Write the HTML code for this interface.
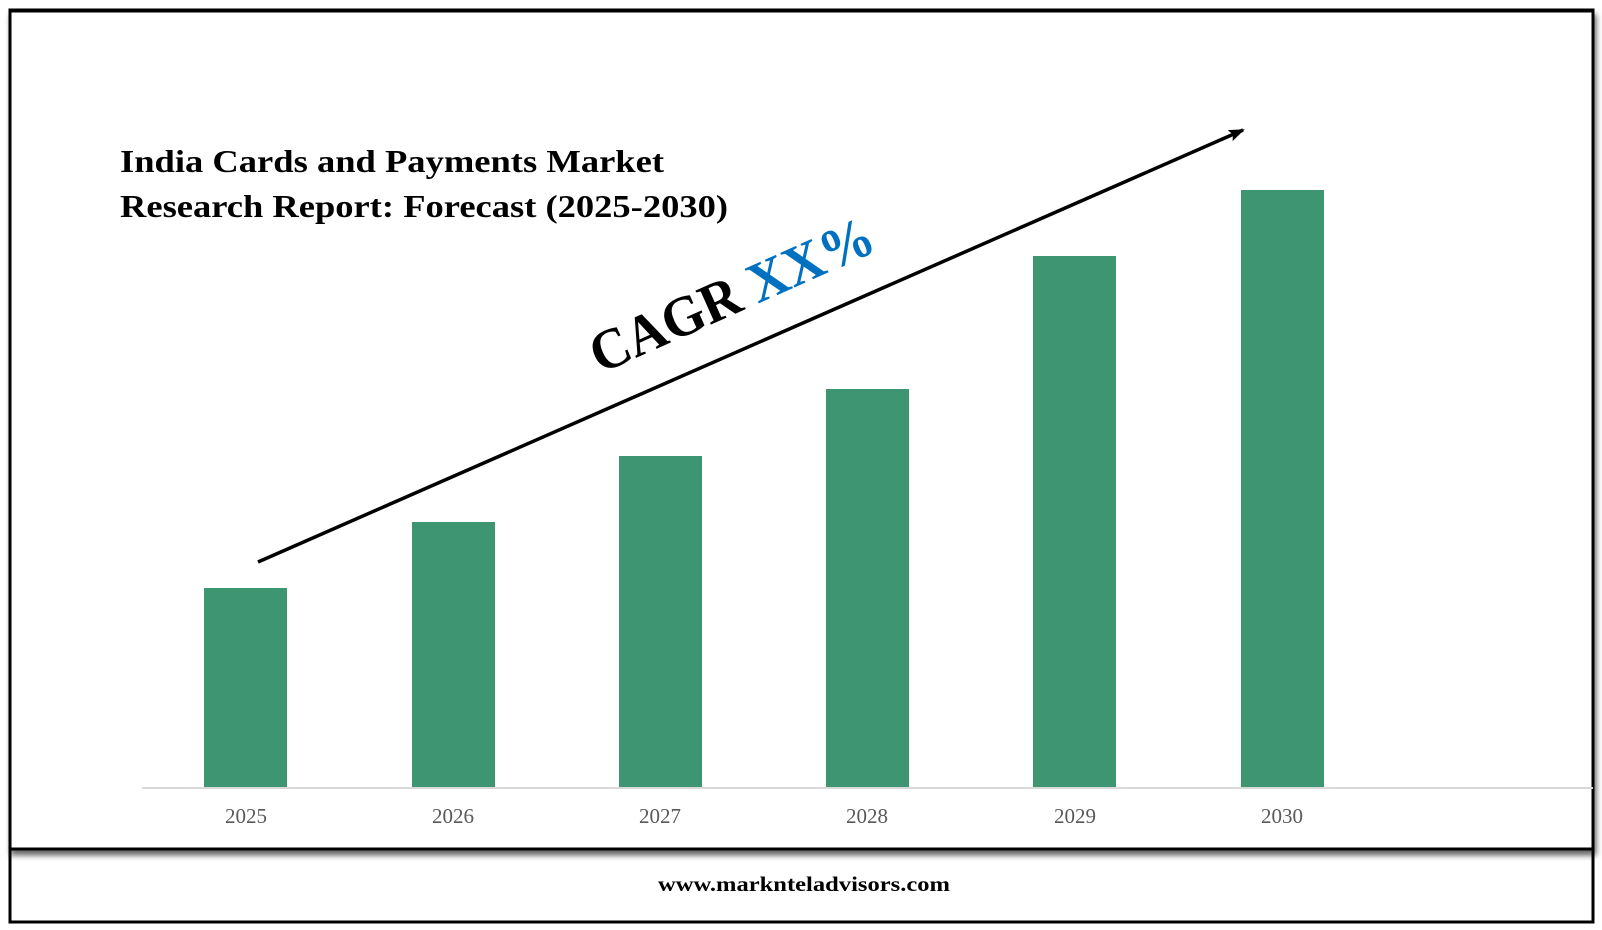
<!DOCTYPE html>
<html><head><meta charset="utf-8"><style>
html,body{margin:0;padding:0;background:#fff;}
body{width:1602px;height:925px;overflow:hidden;}
</style></head><body>
<svg width="1602" height="925" xmlns="http://www.w3.org/2000/svg">
<defs>
<filter id="sh" x="-5%" y="-5%" width="110%" height="115%"><feDropShadow dx="2" dy="5" stdDeviation="3" flood-color="#000" flood-opacity="0.6"/></filter>
<marker id="ah" markerWidth="16" markerHeight="12" refX="14" refY="6" orient="auto" markerUnits="userSpaceOnUse"><path d="M0,0 L16,6 L0,12 L3,6 Z" fill="#000"/></marker>
</defs>
<rect x="10" y="10" width="1583" height="912" fill="#fff" stroke="#000" stroke-width="3"/>
<rect x="10" y="11" width="1583" height="838" fill="#fff" stroke="#000" stroke-width="3" filter="url(#sh)"/>
<line x1="142" y1="788" x2="1593" y2="788" stroke="#d9d9d9" stroke-width="2"/>
<g fill="#3d9671">
<rect x="204" y="588" width="83" height="199"/>
<rect x="412" y="522" width="83" height="265"/>
<rect x="619" y="456" width="83" height="331"/>
<rect x="826" y="389" width="83" height="398"/>
<rect x="1033" y="256" width="83" height="531"/>
<rect x="1241" y="190" width="83" height="597"/>
</g>
<g font-family="Liberation Serif, serif" font-size="21" fill="#595959" text-anchor="middle">
<text x="246" y="823">2025</text><text x="453" y="823">2026</text><text x="660" y="823">2027</text>
<text x="867" y="823">2028</text><text x="1075" y="823">2029</text><text x="1282" y="823">2030</text>
</g>
<line x1="258" y1="562" x2="1243" y2="130" stroke="#000" stroke-width="3.5" marker-end="url(#ah)"/>
<g font-family="Liberation Serif, serif" font-weight="bold" font-size="32" fill="#000">
<text x="120" y="172" textLength="544" lengthAdjust="spacingAndGlyphs">India Cards and Payments Market</text>
<text x="120" y="217" textLength="608" lengthAdjust="spacingAndGlyphs">Research Report: Forecast (2025-2030)</text>
</g>
<text transform="translate(600,374) rotate(-24)" font-family="Liberation Serif, serif" font-weight="bold" font-size="57" textLength="305" lengthAdjust="spacingAndGlyphs"><tspan fill="#000">CAGR </tspan><tspan fill="#0070c0">XX%</tspan></text>
<text x="804" y="891" text-anchor="middle" font-family="Liberation Serif, serif" font-weight="bold" font-size="21" fill="#000" textLength="292" lengthAdjust="spacingAndGlyphs">www.marknteladvisors.com</text>
</svg>
</body></html>
